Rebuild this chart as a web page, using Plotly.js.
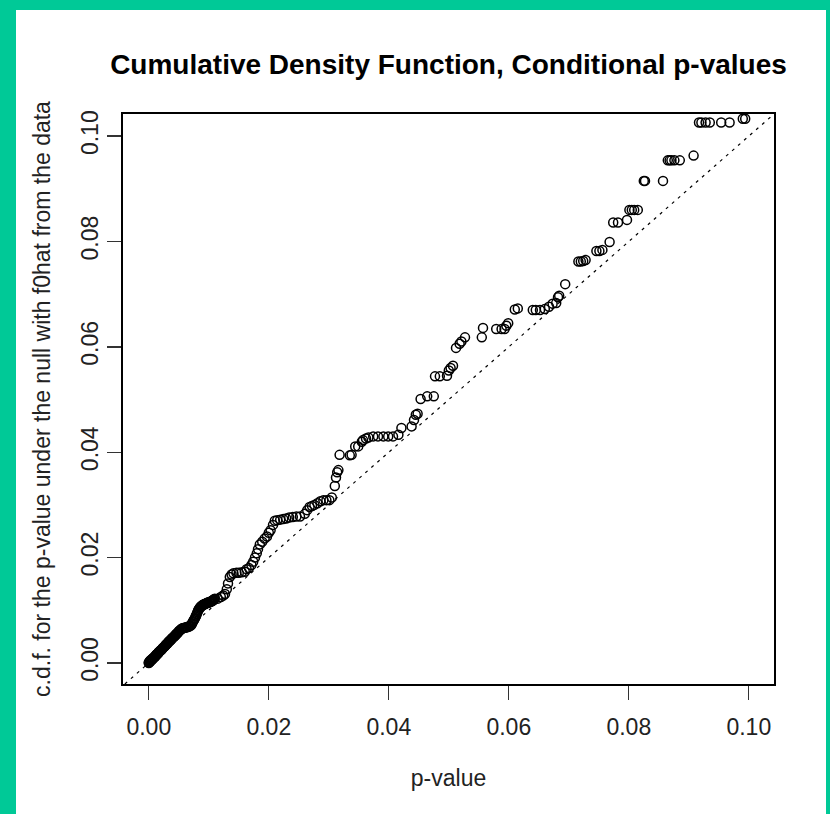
<!DOCTYPE html>
<html>
<head>
<meta charset="utf-8">
<script src="https://cdn.plot.ly/plotly-3.0.1.min.js"></script>
<style>
  html, body { margin: 0; padding: 0; }
  body { width: 830px; height: 814px; background: #00C997; position: relative; overflow: hidden; }
  #chart { position: absolute; left: 16px; top: 10px; width: 810px; height: 804px; background: #ffffff; }
</style>
</head>
<body>
<div id="chart"></div>
<script>
// p-values (x) and c.d.f. values (y)
const pValue = [
  0.0000,0.0000,0.0001,0.0001,0.0002,0.0002,0.0003,0.0004,0.0004,0.0005,
  0.0006,0.0006,0.0007,0.0008,0.0009,0.0009,0.0010,0.0011,0.0012,0.0012,
  0.0013,0.0014,0.0015,0.0016,0.0016,0.0017,0.0018,0.0019,0.0020,0.0021,
  0.0022,0.0023,0.0024,0.0025,0.0026,0.0027,0.0028,0.0029,0.0030,0.0031,
  0.0032,0.0033,0.0034,0.0035,0.0036,0.0037,0.0038,0.0039,0.0040,0.0041,
  0.0042,0.0043,0.0044,0.0045,0.0046,0.0047,0.0048,0.0049,0.0050,0.0051,
  0.0053,0.0054,0.0055,0.0056,0.0057,0.0059,0.0060,0.0062,0.0063,0.0065,
  0.0067,0.0068,0.0070,0.0071,0.0072,0.0073,0.0074,0.0075,0.0076,0.0077,
  0.0078,0.0079,0.0080,0.0081,0.0082,0.0083,0.0084,0.0085,0.0086,0.0087,
  0.0088,0.0089,0.0090,0.0091,0.0092,0.0093,0.0094,0.0095,0.0096,0.0097,
  0.0098,0.0099,0.0100,0.0101,0.0102,0.0103,0.0104,0.0105,0.0106,0.0107,
  0.0108,0.0109,0.0110,
  0.0115,0.0120,0.0124,0.0127,0.0130,0.0132,0.0135,0.0138,0.0141,
  0.0146,0.0150,0.0155,0.0160,0.0163,0.0167,0.0171,0.0174,0.0177,0.0180,
  0.0182,0.0185,0.0189,0.0193,0.0197,0.0200,0.0203,0.0207,0.0210,0.0214,
  0.0219,0.0224,0.0229,0.0234,0.0240,0.0246,0.0252,0.0260,0.0264,0.0268,
  0.0272,0.0276,0.0281,0.0286,0.0291,0.0296,0.0301,0.0305,0.0310,0.0312,
  0.0314,0.0316,0.0318,0.0335,0.0338,0.0344,0.0349,0.0355,0.0357,0.0362,
  0.0366,0.0374,0.0382,0.0391,0.0399,0.0407,0.0416,0.0421,0.0438,0.0442,
  0.0445,0.0448,0.0453,0.0464,0.0475,0.0477,0.0485,0.0497,0.0500,0.0503,
  0.0507,0.0512,0.0518,0.0521,0.0527,0.0555,0.0557,0.0579,0.0588,0.0593,
  0.0596,0.0599,0.0610,0.0615,0.0640,0.0645,0.0652,0.0660,0.0667,0.0673,
  0.0679,0.0682,0.0684,0.0694,0.0716,0.0720,0.0724,0.0728,0.0746,0.0751,
  0.0756,0.0768,0.0774,0.0782,0.0797,0.0801,0.0805,0.0809,0.0815,0.0825,
  0.0827,0.0857,0.0865,0.0868,0.0871,0.0876,0.0885,0.0908,0.0917,0.0921,
  0.0928,0.0935,0.0954,0.0968,0.0990,0.0994
];
const cdfValue = [
  0.0000,0.0001,0.0001,0.0002,0.0003,0.0004,0.0004,0.0005,0.0006,0.0006,
  0.0007,0.0008,0.0009,0.0010,0.0010,0.0011,0.0012,0.0013,0.0014,0.0015,
  0.0016,0.0017,0.0018,0.0019,0.0020,0.0021,0.0022,0.0023,0.0024,0.0025,
  0.0026,0.0028,0.0029,0.0030,0.0031,0.0032,0.0034,0.0035,0.0036,0.0037,
  0.0039,0.0040,0.0041,0.0042,0.0043,0.0044,0.0046,0.0047,0.0048,0.0049,
  0.0050,0.0051,0.0052,0.0054,0.0055,0.0056,0.0057,0.0058,0.0060,0.0061,
  0.0063,0.0064,0.0065,0.0066,0.0066,0.0067,0.0067,0.0067,0.0068,0.0068,
  0.0069,0.0070,0.0071,0.0073,0.0075,0.0077,0.0079,0.0081,0.0083,0.0085,
  0.0088,0.0090,0.0093,0.0096,0.0099,0.0101,0.0103,0.0105,0.0106,0.0107,
  0.0108,0.0109,0.0110,0.0111,0.0111,0.0112,0.0112,0.0113,0.0113,0.0114,
  0.0114,0.0114,0.0115,0.0115,0.0116,0.0116,0.0117,0.0117,0.0118,0.0119,
  0.0120,0.0121,0.0122,
  0.0122,0.0125,0.0128,0.0131,0.0140,0.0151,0.0163,0.0168,0.0170,
  0.0171,0.0171,0.0172,0.0173,0.0178,0.0180,0.0186,0.0192,0.0200,0.0208,
  0.0216,0.0225,0.0230,0.0236,0.0240,0.0247,0.0252,0.0262,0.0270,0.0271,
  0.0272,0.0273,0.0274,0.0276,0.0277,0.0278,0.0278,0.0283,0.0290,0.0296,
  0.0298,0.0300,0.0303,0.0307,0.0309,0.0309,0.0309,0.0314,0.0336,0.0352,
  0.0362,0.0366,0.0395,0.0394,0.0395,0.0411,0.0411,0.0420,0.0423,0.0426,
  0.0428,0.0430,0.0430,0.0430,0.0430,0.0430,0.0433,0.0446,0.0449,0.0461,
  0.0471,0.0473,0.0501,0.0506,0.0506,0.0544,0.0544,0.0545,0.0555,0.0560,
  0.0564,0.0598,0.0606,0.0610,0.0618,0.0618,0.0636,0.0634,0.0634,0.0634,
  0.0640,0.0645,0.0671,0.0673,0.0670,0.0670,0.0670,0.0672,0.0676,0.0682,
  0.0683,0.0694,0.0697,0.0719,0.0762,0.0762,0.0763,0.0765,0.0782,0.0782,
  0.0784,0.0799,0.0836,0.0836,0.0841,0.0860,0.0860,0.0860,0.0860,0.0915,
  0.0915,0.0915,0.0954,0.0954,0.0954,0.0954,0.0954,0.0963,0.1026,0.1026,
  0.1026,0.1026,0.1026,0.1026,0.1033,0.1033
];
// reference line y = x (abline(0,1)), end points beyond the axis range, clipped by the plot
const refLineX = [-0.01, 0.11];
const refLineY = [-0.01, 0.11];
const tickValues = [0, 0.02, 0.04, 0.06, 0.08, 0.10];
const tickLabels = ["0.00", "0.02", "0.04", "0.06", "0.08", "0.10"];

const FONT = "'Liberation Sans', Arial, Helvetica, sans-serif";

const traces = [
  {
    x: refLineX, y: refLineY, type: 'scatter', mode: 'lines',
    line: { color: '#000000', width: 1.2, dash: '3px,5px' },
    hoverinfo: 'skip', showlegend: false
  },
  {
    x: pValue, y: cdfValue, type: 'scatter', mode: 'markers',
    marker: { symbol: 'circle-open', size: 9, color: '#000000', line: { color: '#000000', width: 1.5 } },
    showlegend: false
  }
];

const axisCommon = {
  tickmode: 'array', tickvals: tickValues, ticktext: tickLabels,
  ticks: 'outside', ticklen: 14, tickwidth: 1.3, tickcolor: '#333333',
  showline: true, mirror: true, linecolor: '#000000', linewidth: 1.6,
  showgrid: false, zeroline: false,
  tickfont: { family: FONT, size: 23, color: '#222222' }
};

const layout = {
  width: 810, height: 804,
  margin: { l: 107, r: 52, t: 104, b: 130 },
  paper_bgcolor: '#ffffff', plot_bgcolor: '#ffffff',
  title: {
    text: 'Cumulative Density Function, Conditional p-values',
    font: { family: FONT, size: 28, color: '#000000', weight: 700 },
    x: 0.5, xref: 'paper', xanchor: 'center',
    y: 1 - 54 / 804, yref: 'container', yanchor: 'middle'
  },
  xaxis: Object.assign({}, axisCommon, {
    range: [-0.0043, 0.1042],
    ticklabelstandoff: 8,
    title: { text: 'p-value', font: { family: FONT, size: 23, color: '#222222' }, standoff: 30 }
  }),
  yaxis: Object.assign({}, axisCommon, {
    range: [-0.0040, 0.1042],
    tickangle: -90,
    title: { text: 'c.d.f. for the p-value under the null with f0hat from the data', font: { family: FONT, size: 23, color: '#222222' }, standoff: 20 }
  }),
  showlegend: false
};

Plotly.newPlot('chart', traces, layout, { staticPlot: true, displayModeBar: false });
</script>
</body>
</html>
